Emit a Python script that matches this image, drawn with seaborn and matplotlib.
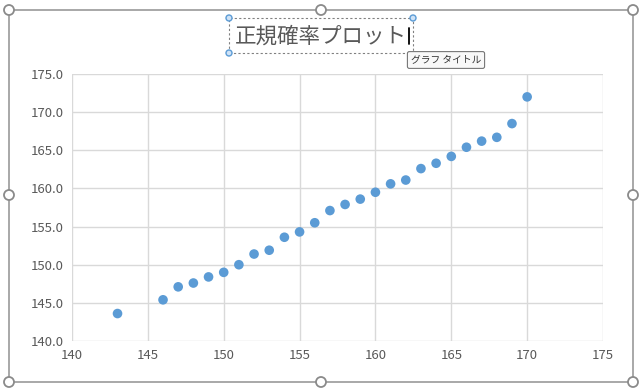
import matplotlib
matplotlib.use("Agg")
import matplotlib.pyplot as plt
import numpy as np
import seaborn as sns
from matplotlib.patches import Rectangle, Circle, Ellipse

# data
height_x = [143, 146, 147, 148, 149, 150, 151, 152, 153, 154, 155, 156, 157,
            158, 159, 160, 161, 162, 163, 164, 165, 166, 167, 168, 169, 170]
expected_y = [143.6, 145.4, 147.1, 147.6, 148.4, 149.0, 150.0, 151.4, 151.9, 153.6,
              154.3, 155.5, 157.1, 157.9, 158.6, 159.5, 160.6, 161.1, 162.6, 163.3,
              164.2, 165.4, 166.2, 166.7, 168.5, 172.0]
x_ticks = [140, 145, 150, 155, 160, 165, 170, 175]
y_ticks = [140, 145, 150, 155, 160, 165, 170, 175]
title = "正規確率プロット"
tooltip = "グラフ タイトル"

sns.set_style("white")
plt.rcParams["font.family"] = ["Noto Sans CJK JP", "DejaVu Sans"]

W, H = 644, 392
fig = plt.figure(figsize=(W / 100, H / 100), dpi=100)
ax = fig.add_axes([72 / W, 1 - 341 / H, (603 - 72) / W, (341 - 74) / H])

sns.scatterplot(x=height_x, y=expected_y, ax=ax, color="#5B9BD5",
                s=48, edgecolor="none", zorder=3)

ax.set_xlim(140, 175)
ax.set_ylim(140, 175)
ax.set_xticks(x_ticks)
ax.set_yticks(y_ticks)
ax.set_yticklabels([f"{v:.1f}" for v in y_ticks])
ax.grid(True, color="#d9d9d9", linewidth=1)
for sp in ax.spines.values():
    sp.set_visible(False)
ax.tick_params(length=0, labelsize=9.5, colors="#595959", pad=6)


def px(x, y):
    return x / W, 1 - y / H


# chart area frame and selection handles
fig.patches.append(Rectangle(px(9, 382), 624 / W, 372 / H, transform=fig.transFigure,
                             fill=False, edgecolor="#9a9a9a", linewidth=1.2))
for hx, hy in [(9, 10), (321, 10), (633, 10), (9, 195), (633, 195),
               (9, 382), (321, 382), (633, 382)]:
    fig.patches.append(Ellipse(px(hx, hy), 10 / W, 10 / H, transform=fig.transFigure,
                               facecolor="white", edgecolor="#8a8a8a", linewidth=1.3,
                               zorder=5))

# title with its selection box
fig.text(321 / W, 1 - 37 / H, title, ha="center", va="center",
         fontsize=15.5, color="#595959")
fig.patches.append(Rectangle(px(229, 53), 184 / W, 35 / H, transform=fig.transFigure,
                             fill=False, edgecolor="#808080", linewidth=0.8,
                             linestyle=(0, (2, 2))))
for hx, hy in [(229, 18), (413, 18), (229, 53)]:
    fig.patches.append(Ellipse(px(hx, hy), 6 / W, 6 / H, transform=fig.transFigure,
                               facecolor="#cfe3f7", edgecolor="#5B9BD5", linewidth=1,
                               zorder=5))

# text cursor
fig.lines.append(plt.Line2D([409 / W, 409 / W], [1 - 28 / H, 1 - 44 / H],
                            transform=fig.transFigure, color="black", linewidth=1.3))

# tooltip
fig.text(446 / W, 1 - 60 / H, tooltip, ha="center", va="center", fontsize=7,
         color="#333333",
         bbox=dict(boxstyle="round,pad=0.35,rounding_size=0.2", facecolor="#f8f8f8",
                   edgecolor="#767676", linewidth=0.8))

fig.savefig("out.png", dpi=100)
